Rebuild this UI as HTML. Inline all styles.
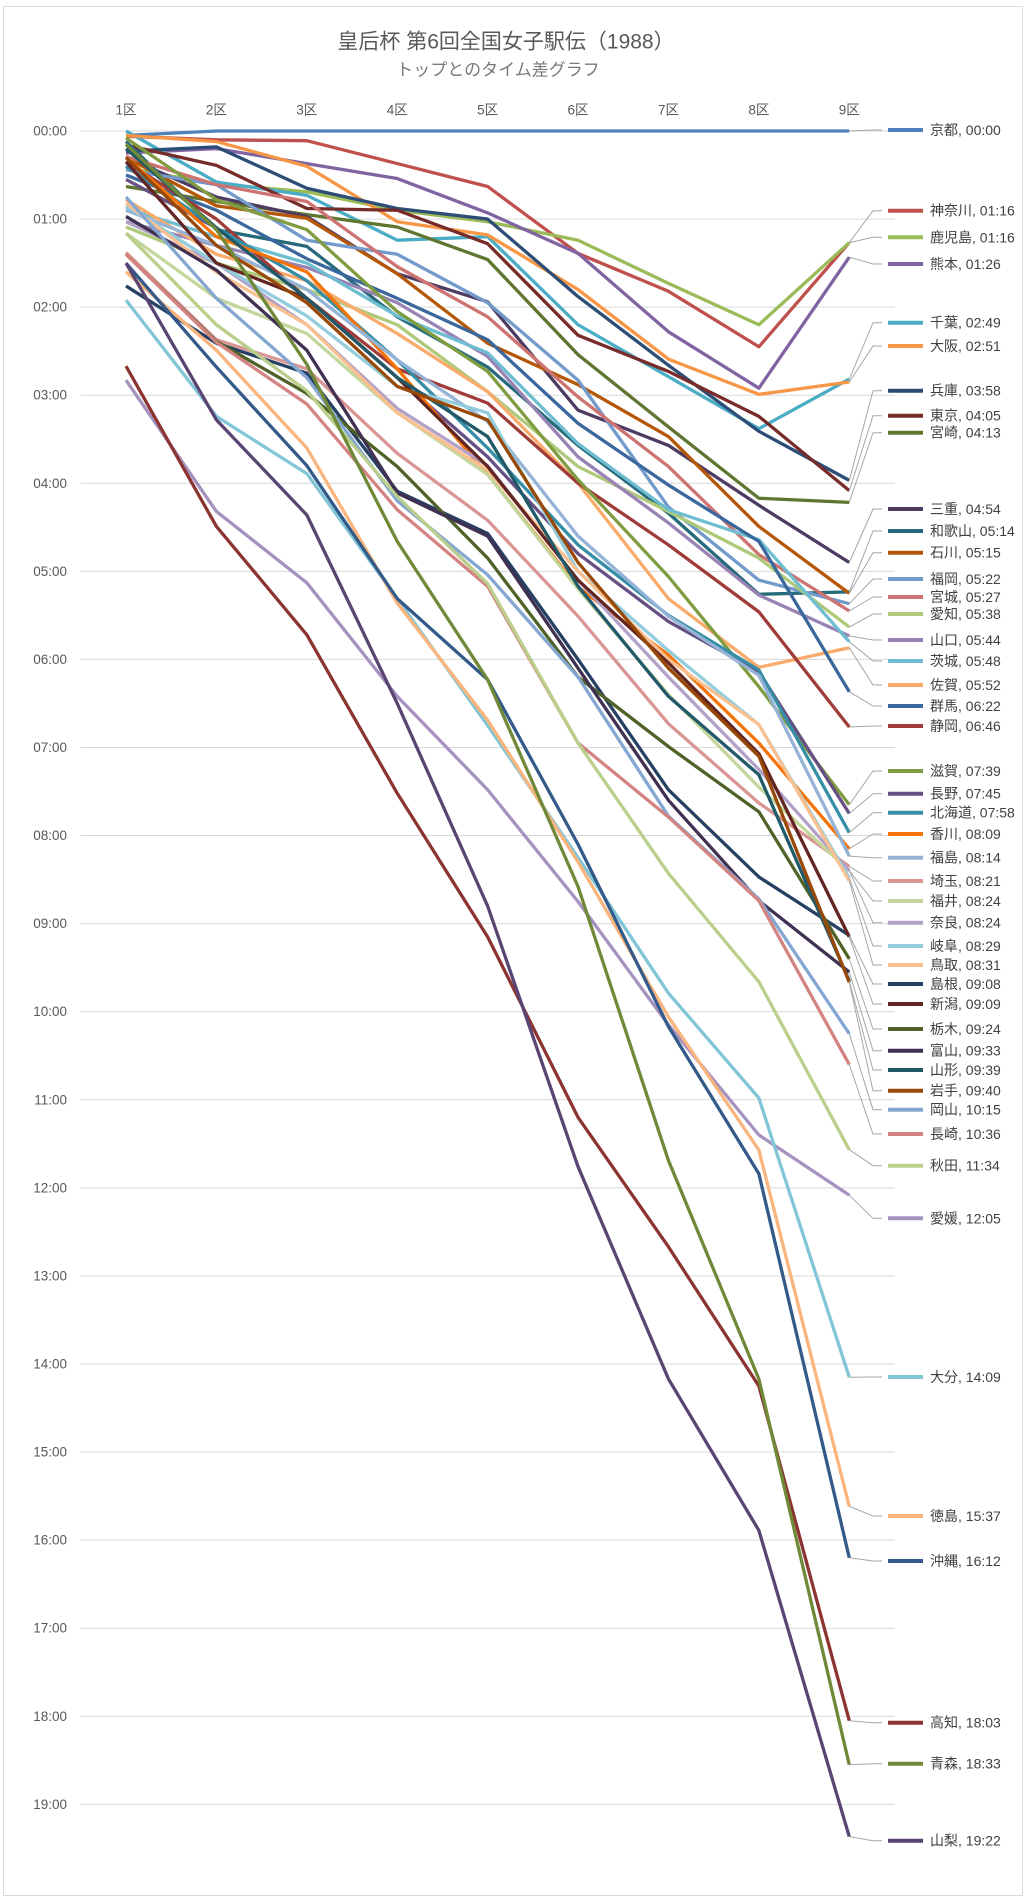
<!DOCTYPE html>
<html><head><meta charset="utf-8"><style>
html,body{margin:0;padding:0;background:#fff;}
svg{display:block;}
text{font-family:"Liberation Sans","Noto Sans CJK JP",sans-serif;}
.yl{font-size:13.5px;fill:#595959;text-anchor:end;dominant-baseline:central;}
.xl{font-size:13.5px;fill:#595959;text-anchor:middle;dominant-baseline:central;}
.lb{font-size:14px;fill:#404040;dominant-baseline:central;}
.g line{stroke:#D9D9D9;stroke-width:1;}
.s polyline{fill:none;stroke-width:3.3;stroke-linejoin:round;vector-effect:non-scaling-stroke;}
.ld polyline{fill:none;stroke:#A6A6A6;stroke-width:1;}
.mk line{stroke-width:4;}
</style></head><body>
<svg width="1026" height="1902" viewBox="0 0 1026 1902" xmlns="http://www.w3.org/2000/svg">
<rect x="3.5" y="6.5" width="1019" height="1889" fill="#fff" stroke="#D9D9D9" stroke-width="1"/>
<text x="506" y="42" font-size="21" fill="#595959" text-anchor="middle" dominant-baseline="central">皇后杯 第6回全国女子駅伝（1988）</text>
<text x="498" y="70" font-size="17" fill="#7a7a7a" text-anchor="middle" dominant-baseline="central">トップとのタイム差グラフ</text>
<g class="g">
<line x1="80.5" x2="895" y1="131" y2="131"/><line x1="80.5" x2="895" y1="219.07" y2="219.07"/><line x1="80.5" x2="895" y1="307.14" y2="307.14"/><line x1="80.5" x2="895" y1="395.21" y2="395.21"/><line x1="80.5" x2="895" y1="483.28" y2="483.28"/><line x1="80.5" x2="895" y1="571.35" y2="571.35"/><line x1="80.5" x2="895" y1="659.42" y2="659.42"/><line x1="80.5" x2="895" y1="747.49" y2="747.49"/><line x1="80.5" x2="895" y1="835.56" y2="835.56"/><line x1="80.5" x2="895" y1="923.63" y2="923.63"/><line x1="80.5" x2="895" y1="1011.7" y2="1011.7"/><line x1="80.5" x2="895" y1="1099.77" y2="1099.77"/><line x1="80.5" x2="895" y1="1187.84" y2="1187.84"/><line x1="80.5" x2="895" y1="1275.91" y2="1275.91"/><line x1="80.5" x2="895" y1="1363.98" y2="1363.98"/><line x1="80.5" x2="895" y1="1452.05" y2="1452.05"/><line x1="80.5" x2="895" y1="1540.12" y2="1540.12"/><line x1="80.5" x2="895" y1="1628.19" y2="1628.19"/><line x1="80.5" x2="895" y1="1716.26" y2="1716.26"/><line x1="80.5" x2="895" y1="1804.33" y2="1804.33"/>
</g>
<g>
<text class="yl" x="67" y="131">00:00</text><text class="yl" x="67" y="219.07">01:00</text><text class="yl" x="67" y="307.14">02:00</text><text class="yl" x="67" y="395.21">03:00</text><text class="yl" x="67" y="483.28">04:00</text><text class="yl" x="67" y="571.35">05:00</text><text class="yl" x="67" y="659.42">06:00</text><text class="yl" x="67" y="747.49">07:00</text><text class="yl" x="67" y="835.56">08:00</text><text class="yl" x="67" y="923.63">09:00</text><text class="yl" x="67" y="1011.7">10:00</text><text class="yl" x="67" y="1099.77">11:00</text><text class="yl" x="67" y="1187.84">12:00</text><text class="yl" x="67" y="1275.91">13:00</text><text class="yl" x="67" y="1363.98">14:00</text><text class="yl" x="67" y="1452.05">15:00</text><text class="yl" x="67" y="1540.12">16:00</text><text class="yl" x="67" y="1628.19">17:00</text><text class="yl" x="67" y="1716.26">18:00</text><text class="yl" x="67" y="1804.33">19:00</text>
</g>
<g>
<text class="xl" x="126" y="110">1区</text><text class="xl" x="216.4" y="110">2区</text><text class="xl" x="306.8" y="110">3区</text><text class="xl" x="397.2" y="110">4区</text><text class="xl" x="487.6" y="110">5区</text><text class="xl" x="578" y="110">6区</text><text class="xl" x="668.5" y="110">7区</text><text class="xl" x="758.9" y="110">8区</text><text class="xl" x="849.3" y="110">9区</text>
</g>
<g class="s" transform="translate(126,131) scale(90.41,88.07)">
<polyline stroke="hsl(212.7,45.4%,52.5%)" points="0,0.05 1,0 2,0 3,0 4,0 5,0 6,0 7,0 8,0"/>
<polyline stroke="hsl(1.6,47.7%,52.7%)" points="0,0.06 1,0.1 2,0.11 3,0.37 4,0.63 5,1.39 6,1.82 7,2.45 8,1.267"/>
<polyline stroke="hsl(79.5,41.8%,54.1%)" points="0,0.42 1,0.6 2,0.69 3,0.9 4,1.03 5,1.24 6,1.73 7,2.2 8,1.267"/>
<polyline stroke="hsl(267.2,25%,51.4%)" points="0,0.25 1,0.2 2,0.37 3,0.54 4,0.93 5,1.39 6,2.28 7,2.92 8,1.433"/>
<polyline stroke="hsl(192.6,51.8%,53.5%)" points="0,0 1,0.58 2,0.73 3,1.24 4,1.2 5,2.2 6,2.79 7,3.38 8,2.817"/>
<polyline stroke="hsl(27.1,91.8%,62.2%)" points="0,0.05 1,0.12 2,0.4 3,1.03 4,1.18 5,1.8 6,2.59 7,2.99 8,2.85"/>
<polyline stroke="hsl(212.7,45.4%,31.5%)" points="0,0.23 1,0.18 2,0.65 3,0.88 4,1.0 5,1.88 6,2.66 7,3.41 8,3.967"/>
<polyline stroke="hsl(1.6,47.7%,31.7%)" points="0,0.16 1,0.39 2,0.88 3,0.9 4,1.28 5,2.32 6,2.73 7,3.24 8,4.083"/>
<polyline stroke="hsl(79.5,41.8%,32.5%)" points="0,0.63 1,0.8 2,0.95 3,1.09 4,1.46 5,2.54 6,3.36 7,4.17 8,4.217"/>
<polyline stroke="hsl(267.2,25%,30.8%)" points="0,0.3 1,0.75 2,0.97 3,1.62 4,1.94 5,3.17 6,3.57 7,4.25 8,4.9"/>
<polyline stroke="hsl(192.6,51.8%,32.1%)" points="0,0.12 1,1.12 2,1.31 3,2.11 4,2.68 5,3.57 6,4.34 7,5.26 8,5.233"/>
<polyline stroke="hsl(27.1,91.8%,37.3%)" points="0,0.3 1,0.85 2,0.99 3,1.62 4,2.41 5,2.88 6,3.47 7,4.49 8,5.25"/>
<polyline stroke="hsl(212.7,45.4%,62%)" points="0,0.44 1,0.61 2,1.24 3,1.4 4,1.95 5,2.83 6,4.27 7,5.1 8,5.367"/>
<polyline stroke="hsl(1.6,47.7%,62.2%)" points="0,0.29 1,0.61 2,0.8 3,1.54 4,2.11 5,3.02 6,3.81 7,4.81 8,5.45"/>
<polyline stroke="hsl(79.5,41.8%,63.3%)" points="0,1.09 1,1.5 2,1.8 3,2.2 4,2.96 5,3.81 6,4.32 7,4.85 8,5.633"/>
<polyline stroke="hsl(267.2,25%,61.1%)" points="0,1.03 1,1.3 2,1.55 3,1.95 4,2.56 5,3.7 6,4.45 7,5.27 8,5.733"/>
<polyline stroke="hsl(192.6,51.8%,62.8%)" points="0,0.88 1,1.2 2,1.5 3,2.1 4,2.52 5,3.55 6,4.3 7,4.64 8,5.8"/>
<polyline stroke="hsl(27.1,91.8%,69.8%)" points="0,0.78 1,1.4 2,1.7 3,2.3 4,2.96 5,4.0 6,5.31 7,6.09 8,5.867"/>
<polyline stroke="hsl(212.7,45.4%,42%)" points="0,0.5 1,0.9 2,1.45 3,1.9 4,2.37 5,3.32 6,4.02 7,4.66 8,6.367"/>
<polyline stroke="hsl(1.6,47.7%,42.2%)" points="0,0.35 1,1.0 2,1.9 3,2.7 4,3.09 5,4.0 6,4.7 7,5.46 8,6.767"/>
<polyline stroke="hsl(79.5,41.8%,43.3%)" points="0,0.08 1,0.78 2,1.12 3,2.05 4,2.73 5,3.96 6,5.06 7,6.31 8,7.65"/>
<polyline stroke="hsl(267.2,25%,41.1%)" points="0,0.55 1,1.1 2,1.9 3,2.8 4,3.7 5,4.8 6,5.57 7,6.14 8,7.75"/>
<polyline stroke="hsl(192.6,51.8%,42.8%)" points="0,0.4 1,1.1 2,1.7 3,2.6 4,3.6 5,4.7 6,5.5 7,6.12 8,7.967"/>
<polyline stroke="hsl(27.1,91.8%,49.8%)" points="0,0.3 1,1.2 2,1.6 3,2.7 4,3.9 5,5.18 6,5.95 7,6.95 8,8.15"/>
<polyline stroke="hsl(212.7,45.4%,71.5%)" points="0,0.9 1,1.3 2,1.8 3,2.6 4,3.3 5,4.6 6,5.51 7,6.18 8,8.233"/>
<polyline stroke="hsl(1.6,47.7%,71.7%)" points="0,1.38 1,2.37 2,2.7 3,3.66 4,4.42 5,5.51 6,6.73 7,7.63 8,8.35"/>
<polyline stroke="hsl(79.5,41.8%,72.5%)" points="0,1.16 1,1.9 2,2.3 3,3.2 4,3.9 5,5.2 6,6.4 7,7.45 8,8.4"/>
<polyline stroke="hsl(267.2,25%,70.8%)" points="0,1.03 1,1.5 2,2.2 3,3.15 4,3.8 5,5.1 6,6.2 7,7.25 8,8.4"/>
<polyline stroke="hsl(192.6,51.8%,72.1%)" points="0,0.85 1,1.5 2,2.1 3,2.9 4,3.2 5,5.0 6,5.9 7,6.74 8,8.483"/>
<polyline stroke="hsl(27.1,91.8%,77.3%)" points="0,0.82 1,1.6 2,2.2 3,3.2 4,3.85 5,5.0 6,6.0 7,6.74 8,8.517"/>
<polyline stroke="hsl(212.7,45.4%,26.3%)" points="0,1.76 1,2.41 2,2.75 3,4.09 4,4.57 5,6.0 6,7.48 7,8.47 8,9.133"/>
<polyline stroke="hsl(1.6,47.7%,26.4%)" points="0,0.35 1,1.5 2,1.9 3,2.8 4,3.81 5,5.1 6,6.04 7,7.07 8,9.15"/>
<polyline stroke="hsl(79.5,41.8%,27.1%)" points="0,1.4 1,2.39 2,2.98 3,3.81 4,4.85 5,6.2 6,6.99 7,7.73 8,9.4"/>
<polyline stroke="hsl(267.2,25%,25.7%)" points="0,0.97 1,1.58 2,2.49 3,4.11 4,4.6 5,6.1 6,7.6 7,8.74 8,9.55"/>
<polyline stroke="hsl(192.6,51.8%,26.8%)" points="0,0.2 1,1.1 2,1.9 3,2.8 4,3.47 5,5.17 6,6.42 7,7.31 8,9.65"/>
<polyline stroke="hsl(27.1,91.8%,31.1%)" points="0,0.3 1,1.3 2,1.95 3,2.9 4,3.28 5,4.9 6,6.1 7,7.1 8,9.667"/>
<polyline stroke="hsl(212.7,45.4%,66.8%)" points="0,0.75 1,1.9 2,2.8 3,4.2 4,5.04 5,6.2 6,7.78 7,8.72 8,10.25"/>
<polyline stroke="hsl(1.6,47.7%,66.9%)" points="0,1.4 1,2.4 2,3.1 3,4.3 4,5.17 5,6.95 6,7.79 7,8.74 8,10.6"/>
<polyline stroke="hsl(79.5,41.8%,67.9%)" points="0,1.16 1,2.2 2,2.95 3,4.15 4,5.14 5,6.95 6,8.43 7,9.66 8,11.567"/>
<polyline stroke="hsl(267.2,25%,65.9%)" points="0,2.83 1,4.32 2,5.13 3,6.42 4,7.48 5,8.75 6,10.15 7,11.4 8,12.083"/>
<polyline stroke="hsl(192.6,51.8%,67.5%)" points="0,1.92 1,3.24 2,3.89 3,5.31 4,6.75 5,8.25 6,9.79 7,10.98 8,14.15"/>
<polyline stroke="hsl(27.1,91.8%,73.5%)" points="0,1.6 1,2.49 2,3.6 3,5.36 4,6.69 5,8.3 6,10.06 7,11.57 8,15.617"/>
<polyline stroke="hsl(212.7,45.4%,36.8%)" points="0,1.5 1,2.68 2,3.8 3,5.31 4,6.23 5,8.1 6,10.17 7,11.84 8,16.2"/>
<polyline stroke="hsl(1.6,47.7%,36.9%)" points="0,2.67 1,4.49 2,5.72 3,7.52 4,9.15 5,11.2 6,12.67 7,14.25 8,18.05"/>
<polyline stroke="hsl(79.5,41.8%,37.9%)" points="0,0.15 1,1.12 2,2.65 3,4.66 4,6.23 5,8.58 6,11.69 7,14.17 8,18.55"/>
<polyline stroke="hsl(267.2,25%,35.9%)" points="0,1.5 1,3.28 2,4.36 3,6.5 4,8.8 5,11.76 6,14.17 7,15.89 8,19.367"/>
</g>
<g class="ld">
<polyline points="849.3,131 873,130 882,130"/>
<polyline points="849.3,242.6 873,210.7 882,210.7"/>
<polyline points="849.3,242.6 873,237.3 882,237.3"/>
<polyline points="849.3,257.2 873,264 882,264"/>
<polyline points="849.3,379.1 873,322.7 882,322.7"/>
<polyline points="849.3,382 873,346 882,346"/>
<polyline points="849.3,480.4 873,390.7 882,390.7"/>
<polyline points="849.3,490.6 873,415.7 882,415.7"/>
<polyline points="849.3,502.4 873,432.7 882,432.7"/>
<polyline points="849.3,562.5 873,509 882,509"/>
<polyline points="849.3,591.9 873,531 882,531"/>
<polyline points="849.3,593.4 873,552.7 882,552.7"/>
<polyline points="849.3,603.7 873,579 882,579"/>
<polyline points="849.3,611 873,597 882,597"/>
<polyline points="849.3,627.1 873,614 882,614"/>
<polyline points="849.3,635.9 873,640 882,640"/>
<polyline points="849.3,641.8 873,661 882,661"/>
<polyline points="849.3,647.7 873,685 882,685"/>
<polyline points="849.3,691.7 873,706 882,706"/>
<polyline points="849.3,727 873,726 882,726"/>
<polyline points="849.3,804.7 873,771 882,771"/>
<polyline points="849.3,813.5 873,793.7 882,793.7"/>
<polyline points="849.3,832.6 873,812.7 882,812.7"/>
<polyline points="849.3,848.8 873,834 882,834"/>
<polyline points="849.3,856.1 873,857.7 882,857.7"/>
<polyline points="849.3,866.4 873,881 882,881"/>
<polyline points="849.3,870.8 873,901 882,901"/>
<polyline points="849.3,870.8 873,922.7 882,922.7"/>
<polyline points="849.3,878.1 873,946 882,946"/>
<polyline points="849.3,881.1 873,965 882,965"/>
<polyline points="849.3,935.4 873,984 882,984"/>
<polyline points="849.3,936.8 873,1004 882,1004"/>
<polyline points="849.3,958.9 873,1029 882,1029"/>
<polyline points="849.3,972.1 873,1050.7 882,1050.7"/>
<polyline points="849.3,980.9 873,1070 882,1070"/>
<polyline points="849.3,982.4 873,1090.7 882,1090.7"/>
<polyline points="849.3,1033.7 873,1109.7 882,1109.7"/>
<polyline points="849.3,1064.5 873,1134 882,1134"/>
<polyline points="849.3,1149.7 873,1165.7 882,1165.7"/>
<polyline points="849.3,1195.2 873,1218.3 882,1218.3"/>
<polyline points="849.3,1377.2 873,1377 882,1377"/>
<polyline points="849.3,1506.4 873,1516 882,1516"/>
<polyline points="849.3,1557.7 873,1561 882,1561"/>
<polyline points="849.3,1720.7 873,1722.7 882,1722.7"/>
<polyline points="849.3,1764.7 873,1763.7 882,1763.7"/>
<polyline points="849.3,1836.6 873,1840.7 882,1840.7"/>
</g>
<g class="mk">
<line x1="888" x2="923" y1="130" y2="130" stroke="hsl(212.7,45.4%,52.5%)"/><text class="lb" x="930" y="130">京都, 00:00</text>
<line x1="888" x2="923" y1="210.7" y2="210.7" stroke="hsl(1.6,47.7%,52.7%)"/><text class="lb" x="930" y="210.7">神奈川, 01:16</text>
<line x1="888" x2="923" y1="237.3" y2="237.3" stroke="hsl(79.5,41.8%,54.1%)"/><text class="lb" x="930" y="237.3">鹿児島, 01:16</text>
<line x1="888" x2="923" y1="264" y2="264" stroke="hsl(267.2,25%,51.4%)"/><text class="lb" x="930" y="264">熊本, 01:26</text>
<line x1="888" x2="923" y1="322.7" y2="322.7" stroke="hsl(192.6,51.8%,53.5%)"/><text class="lb" x="930" y="322.7">千葉, 02:49</text>
<line x1="888" x2="923" y1="346" y2="346" stroke="hsl(27.1,91.8%,62.2%)"/><text class="lb" x="930" y="346">大阪, 02:51</text>
<line x1="888" x2="923" y1="390.7" y2="390.7" stroke="hsl(212.7,45.4%,31.5%)"/><text class="lb" x="930" y="390.7">兵庫, 03:58</text>
<line x1="888" x2="923" y1="415.7" y2="415.7" stroke="hsl(1.6,47.7%,31.7%)"/><text class="lb" x="930" y="415.7">東京, 04:05</text>
<line x1="888" x2="923" y1="432.7" y2="432.7" stroke="hsl(79.5,41.8%,32.5%)"/><text class="lb" x="930" y="432.7">宮崎, 04:13</text>
<line x1="888" x2="923" y1="509" y2="509" stroke="hsl(267.2,25%,30.8%)"/><text class="lb" x="930" y="509">三重, 04:54</text>
<line x1="888" x2="923" y1="531" y2="531" stroke="hsl(192.6,51.8%,32.1%)"/><text class="lb" x="930" y="531">和歌山, 05:14</text>
<line x1="888" x2="923" y1="552.7" y2="552.7" stroke="hsl(27.1,91.8%,37.3%)"/><text class="lb" x="930" y="552.7">石川, 05:15</text>
<line x1="888" x2="923" y1="579" y2="579" stroke="hsl(212.7,45.4%,62%)"/><text class="lb" x="930" y="579">福岡, 05:22</text>
<line x1="888" x2="923" y1="597" y2="597" stroke="hsl(1.6,47.7%,62.2%)"/><text class="lb" x="930" y="597">宮城, 05:27</text>
<line x1="888" x2="923" y1="614" y2="614" stroke="hsl(79.5,41.8%,63.3%)"/><text class="lb" x="930" y="614">愛知, 05:38</text>
<line x1="888" x2="923" y1="640" y2="640" stroke="hsl(267.2,25%,61.1%)"/><text class="lb" x="930" y="640">山口, 05:44</text>
<line x1="888" x2="923" y1="661" y2="661" stroke="hsl(192.6,51.8%,62.8%)"/><text class="lb" x="930" y="661">茨城, 05:48</text>
<line x1="888" x2="923" y1="685" y2="685" stroke="hsl(27.1,91.8%,69.8%)"/><text class="lb" x="930" y="685">佐賀, 05:52</text>
<line x1="888" x2="923" y1="706" y2="706" stroke="hsl(212.7,45.4%,42%)"/><text class="lb" x="930" y="706">群馬, 06:22</text>
<line x1="888" x2="923" y1="726" y2="726" stroke="hsl(1.6,47.7%,42.2%)"/><text class="lb" x="930" y="726">静岡, 06:46</text>
<line x1="888" x2="923" y1="771" y2="771" stroke="hsl(79.5,41.8%,43.3%)"/><text class="lb" x="930" y="771">滋賀, 07:39</text>
<line x1="888" x2="923" y1="793.7" y2="793.7" stroke="hsl(267.2,25%,41.1%)"/><text class="lb" x="930" y="793.7">長野, 07:45</text>
<line x1="888" x2="923" y1="812.7" y2="812.7" stroke="hsl(192.6,51.8%,42.8%)"/><text class="lb" x="930" y="812.7">北海道, 07:58</text>
<line x1="888" x2="923" y1="834" y2="834" stroke="hsl(27.1,91.8%,49.8%)"/><text class="lb" x="930" y="834">香川, 08:09</text>
<line x1="888" x2="923" y1="857.7" y2="857.7" stroke="hsl(212.7,45.4%,71.5%)"/><text class="lb" x="930" y="857.7">福島, 08:14</text>
<line x1="888" x2="923" y1="881" y2="881" stroke="hsl(1.6,47.7%,71.7%)"/><text class="lb" x="930" y="881">埼玉, 08:21</text>
<line x1="888" x2="923" y1="901" y2="901" stroke="hsl(79.5,41.8%,72.5%)"/><text class="lb" x="930" y="901">福井, 08:24</text>
<line x1="888" x2="923" y1="922.7" y2="922.7" stroke="hsl(267.2,25%,70.8%)"/><text class="lb" x="930" y="922.7">奈良, 08:24</text>
<line x1="888" x2="923" y1="946" y2="946" stroke="hsl(192.6,51.8%,72.1%)"/><text class="lb" x="930" y="946">岐阜, 08:29</text>
<line x1="888" x2="923" y1="965" y2="965" stroke="hsl(27.1,91.8%,77.3%)"/><text class="lb" x="930" y="965">鳥取, 08:31</text>
<line x1="888" x2="923" y1="984" y2="984" stroke="hsl(212.7,45.4%,26.3%)"/><text class="lb" x="930" y="984">島根, 09:08</text>
<line x1="888" x2="923" y1="1004" y2="1004" stroke="hsl(1.6,47.7%,26.4%)"/><text class="lb" x="930" y="1004">新潟, 09:09</text>
<line x1="888" x2="923" y1="1029" y2="1029" stroke="hsl(79.5,41.8%,27.1%)"/><text class="lb" x="930" y="1029">栃木, 09:24</text>
<line x1="888" x2="923" y1="1050.7" y2="1050.7" stroke="hsl(267.2,25%,25.7%)"/><text class="lb" x="930" y="1050.7">富山, 09:33</text>
<line x1="888" x2="923" y1="1070" y2="1070" stroke="hsl(192.6,51.8%,26.8%)"/><text class="lb" x="930" y="1070">山形, 09:39</text>
<line x1="888" x2="923" y1="1090.7" y2="1090.7" stroke="hsl(27.1,91.8%,31.1%)"/><text class="lb" x="930" y="1090.7">岩手, 09:40</text>
<line x1="888" x2="923" y1="1109.7" y2="1109.7" stroke="hsl(212.7,45.4%,66.8%)"/><text class="lb" x="930" y="1109.7">岡山, 10:15</text>
<line x1="888" x2="923" y1="1134" y2="1134" stroke="hsl(1.6,47.7%,66.9%)"/><text class="lb" x="930" y="1134">長崎, 10:36</text>
<line x1="888" x2="923" y1="1165.7" y2="1165.7" stroke="hsl(79.5,41.8%,67.9%)"/><text class="lb" x="930" y="1165.7">秋田, 11:34</text>
<line x1="888" x2="923" y1="1218.3" y2="1218.3" stroke="hsl(267.2,25%,65.9%)"/><text class="lb" x="930" y="1218.3">愛媛, 12:05</text>
<line x1="888" x2="923" y1="1377" y2="1377" stroke="hsl(192.6,51.8%,67.5%)"/><text class="lb" x="930" y="1377">大分, 14:09</text>
<line x1="888" x2="923" y1="1516" y2="1516" stroke="hsl(27.1,91.8%,73.5%)"/><text class="lb" x="930" y="1516">徳島, 15:37</text>
<line x1="888" x2="923" y1="1561" y2="1561" stroke="hsl(212.7,45.4%,36.8%)"/><text class="lb" x="930" y="1561">沖縄, 16:12</text>
<line x1="888" x2="923" y1="1722.7" y2="1722.7" stroke="hsl(1.6,47.7%,36.9%)"/><text class="lb" x="930" y="1722.7">高知, 18:03</text>
<line x1="888" x2="923" y1="1763.7" y2="1763.7" stroke="hsl(79.5,41.8%,37.9%)"/><text class="lb" x="930" y="1763.7">青森, 18:33</text>
<line x1="888" x2="923" y1="1840.7" y2="1840.7" stroke="hsl(267.2,25%,35.9%)"/><text class="lb" x="930" y="1840.7">山梨, 19:22</text>
</g>
</svg>
</body></html>
